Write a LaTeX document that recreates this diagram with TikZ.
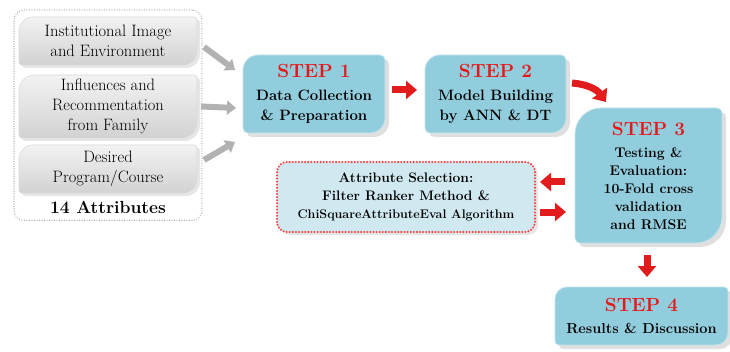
\documentclass[tikz,border=0pt]{standalone}
\usetikzlibrary{arrows.meta,shadows,backgrounds,fit}

\definecolor{stepblue}{RGB}{146,205,221}
\definecolor{selblue}{RGB}{208,233,241}
\definecolor{titlered}{RGB}{232,22,22}
\definecolor{arrowred}{RGB}{226,28,28}

% box with two big rounded corners (top left, bottom right)
\newcommand{\leafshape}[4][]{%
  \path[#1] ([yshift=-#3]#2.north west) arc[start angle=180,end angle=90,radius=#3]
    -- ([xshift=-#4]#2.north east) arc[start angle=90,end angle=0,radius=#4]
    -- ([yshift=#3]#2.south east) arc[start angle=0,end angle=-90,radius=#3]
    -- ([xshift=#4]#2.south west) arc[start angle=270,end angle=180,radius=#4]
    -- cycle;}
\newcommand{\steptitle}[1]{{\color{titlered}\fontsize{19}{22}\selectfont STEP #1}}

\tikzset{
  stepbox/.style={inner sep=0pt, outer sep=0pt, align=center, font=\fontsize{15}{20}\bfseries\selectfont},
  factbox/.style={inner sep=0pt, outer sep=0pt, align=center, minimum width=178pt, font=\fontsize{16.5}{20}\selectfont},
  stepfill/.style={fill=stepblue, draw=stepblue!55!white, line width=0.8pt,
    drop shadow={shadow xshift=4pt, shadow yshift=-4pt, opacity=0.25}},
  factfill/.style={top color=gray!10, bottom color=gray!35, draw=gray!30, line width=0.6pt,
    drop shadow={shadow xshift=3pt, shadow yshift=-3pt, opacity=0.2}},
  selfill/.style={fill=selblue, draw=red!75, line width=2.2pt, dash pattern=on 0.1pt off 3pt, line cap=round,
    rounded corners=10pt, drop shadow={shadow xshift=3pt, shadow yshift=-3pt, opacity=0.2}},
  redarrow/.style={draw=arrowred, line width=7pt, -{Triangle[width=18pt,length=11pt]}},
  grayarrow/.style={draw=gray!60, line width=6pt, -{Triangle[width=14pt,length=9pt]}},
}

\begin{document}
\begin{tikzpicture}[x=1pt,y=1pt]
\useasboundingbox (0,0) rectangle (730,351);

% attributes
\node (inst) [factbox, minimum height=48pt] at (108,310) {Institutional Image\\and Environment};
\node (infl) [factbox, minimum height=63pt] at (108,244.5) {Influences and\\Recommentation\\from Family};
\node (prog) [factbox, minimum height=48pt] at (108,182) {Desired\\Program/Course};
\node (nattr) [inner sep=0pt, font=\fontsize{17.5}{22}\bfseries\selectfont] at (108,144) {14 Attributes};
\node (group) [fit=(inst)(nattr), draw=gray!65, line width=1.3pt, dash pattern=on 0.1pt off 2.4pt, line cap=round,
  rounded corners=10pt, inner xsep=5pt, inner ysep=7pt] {};

% steps
\node (step1) [stepbox, minimum width=142pt, minimum height=78pt] at (314,257) {\steptitle{1}\\[3pt]Data Collection\\\& Preparation};
\node (step2) [stepbox, minimum width=141pt, minimum height=78pt] at (495.5,257) {\steptitle{2}\\[3pt]Model Building\\by ANN \& DT};
\node (step3) [stepbox, minimum width=147pt, minimum height=135pt, font=\fontsize{14}{18}\bfseries\selectfont] at (648.5,175.5)
  {\steptitle{3}\\[4pt]Testing \&\\Evaluation:\\10-Fold cross\\validation\\and RMSE};
\node (step4) [stepbox, minimum width=173pt, minimum height=58pt, font=\fontsize{14.5}{20}\bfseries\selectfont] at (641.5,35)
  {\steptitle{4}\\[2pt]Results \& Discussion};
\node (attrsel) [stepbox, minimum width=258pt, minimum height=70pt, font=\fontsize{13.8}{18}\bfseries\selectfont] at (406,154)
  {Attribute Selection:\\Filter Ranker Method \&\\{\fontsize{12.5}{18}\selectfont ChiSquareAttributeEval Algorithm}};

\begin{scope}[on background layer]
\leafshape[factfill]{inst}{14pt}{3pt}
\leafshape[factfill]{infl}{16pt}{3pt}
\leafshape[factfill]{prog}{14pt}{3pt}
\leafshape[stepfill]{step1}{15pt}{5pt}
\leafshape[stepfill]{step2}{15pt}{5pt}
\leafshape[stepfill]{step3}{26pt}{5pt}
\leafshape[stepfill]{step4}{12pt}{4pt}
\path[selfill] (attrsel.south west) rectangle (attrsel.north east);
\end{scope}

\draw[grayarrow] ([xshift=7pt,yshift=-6pt]inst.east) -- ([xshift=-8pt,yshift=24pt]step1.west);
\draw[grayarrow] ([xshift=4pt]infl.east) -- ([xshift=-7pt,yshift=-14pt]step1.west);
\draw[grayarrow] ([xshift=7pt,yshift=9pt]prog.east) -- ([xshift=-8pt,yshift=-48pt]step1.west);

\draw[redarrow] ([xshift=7pt,yshift=4pt]step1.east) -- ([xshift=-8pt,yshift=4pt]step2.west);
\draw[redarrow] ([xshift=6pt,yshift=-28pt]step2.north east) to[bend left=25] ([xshift=31pt,yshift=6pt]step3.north west);
\draw[redarrow] ([xshift=-10pt,yshift=-6.5pt]step3.west) -- ([xshift=5pt,yshift=15pt]attrsel.east);
\draw[redarrow] ([xshift=5pt,yshift=-15pt]attrsel.east) -- ([xshift=-9pt,yshift=-36.5pt]step3.west);
\draw[redarrow] ([xshift=-1.5pt,yshift=-12pt]step3.south) -- ([xshift=5.5pt,yshift=10pt]step4.north);
\end{tikzpicture}
\end{document}
